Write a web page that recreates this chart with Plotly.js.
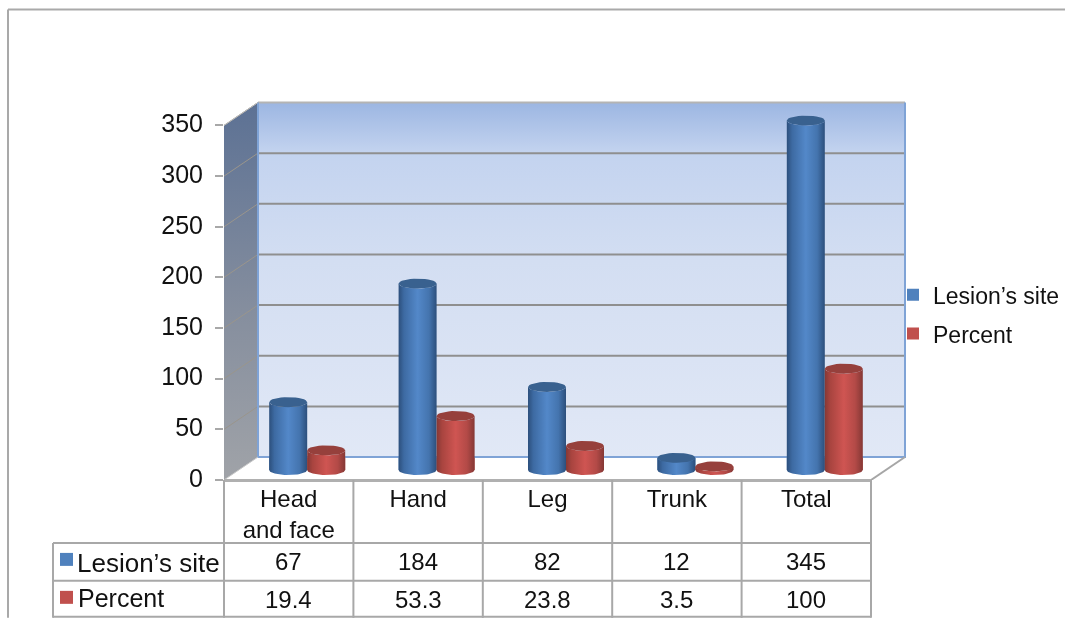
<!DOCTYPE html>
<html><head><meta charset="utf-8">
<script src="https://cdn.plot.ly/plotly-3.0.1.min.js"></script>
<style>html,body{margin:0;padding:0;background:#fff;overflow:hidden}#chart{filter:blur(0.35px)}</style>
</head><body><div id="chart" style="width:1065px;height:618px"></div>
<script>
const categories = ["Head<br>and face", "Hand", "Leg", "Trunk", "Total"];
const lesionSite = [67, 184, 82, 12, 345];
const percent = [19.4, 53.3, 23.8, 3.5, 100];
const percentLabels = ["19.4", "53.3", "23.8", "3.5", "100"];
const yTicks = [0, 50, 100, 150, 200, 250, 300, 350];
const seriesNames = ["Lesion\u2019s site", "Percent"];

const pxX = 647 / 5, pxY = 355 / 350;
const L = 224, B = 480, W = 1065 - L, xMax = W / pxX, yMax = 385;
const H = yMax * pxY, T = B - H;
const depthX = 34 / pxX, depthY = 23 / pxY;
const barW = 38 / pxX, capY = 5 / pxY, floorY = 10 / pxY, shift = 18.5 / pxX;
const paperX = X => (X - L) / W;
const paperY = Y => (B - Y) / H;
const FONT = "Liberation Sans, Arial, sans-serif";
const FS = 24;

const traces = [];
const base = {type: "scatter", mode: "lines", hoverinfo: "skip", showlegend: false, cliponaxis: false};

[[lesionSite, "#4f81bd", -1], [percent, "#c0504d", 1]].forEach(([vals, col, side], s) => {
  traces.push({
    type: "bar", name: seriesNames[s], legendgroup: seriesNames[s],
    x: vals.map((_, i) => i + 0.5 + shift + side * barW / 2),
    y: vals, base: vals.map(() => floorY), width: barW,
    marker: {color: col}, cliponaxis: false, hoverinfo: "skip"
  });
});

traces.push({...base, x: [depthX, 5 + depthX, 5 + depthX, depthX, depthX],
  y: [depthY, depthY, 350 + depthY, 350 + depthY, depthY], line: {width: 0}, fill: "toself",
  fillgradient: {type: "vertical", colorscale: [[0, "#e1e8f6"], [0.55, "#d3def2"], [0.86, "#c3d3ef"], [1, "#9cb6e2"]]}});
traces.push({...base, x: [0, depthX, depthX, 0, 0], y: [0, depthY, 350 + depthY, 350, 0], line: {width: 0}, fill: "toself",
  fillgradient: {type: "vertical", colorscale: [[0, "#a0a3a8"], [0.45, "#858e9e"], [1, "#5c7194"]]}});
yTicks.slice(1).forEach(v => {
  traces.push({...base, x: [depthX, 5 + depthX], y: [v + depthY, v + depthY],
    line: {color: v === 350 ? "#b4b4b4" : "#8f8f8f", width: 2}});
  traces.push({...base, x: [0, depthX], y: [v, v + depthY], line: {color: "#9a958c", width: 1}});
});
traces.push({...base, x: [depthX, depthX, 5 + depthX, 5 + depthX], y: [350 + depthY, depthY, depthY, 350 + depthY],
  line: {color: "#7fa3d6", width: 2}});
traces.push({...base, x: [0, depthX], y: [0, depthY], line: {color: "#c8c8c8", width: 1}});
traces.push({...base, x: [0, depthX], y: [350, 350 + depthY], line: {color: "#bcbcbc", width: 1}});
traces.push({...base, x: [5, 5 + depthX], y: [0, depthY], line: {color: "#a6a6a6", width: 2}});

const stops = [
  {body: [[0, "#2c4f7c"], [0.14, "#3d6aa2"], [0.5, "#5388c9"], [0.8, "#4474ae"], [1, "#2c4f7c"]], cap: "#39618f"},
  {body: [[0, "#853835"], [0.14, "#a8443f"], [0.5, "#cf5552"], [0.8, "#b34a47"], [1, "#853835"]], cap: "#96403c"}
];
function arc(cx, cy, from, to) {
  const xs = [], ys = [];
  for (let k = 0; k <= 32; k++) {
    const a = from + (to - from) * k / 32;
    xs.push(cx + Math.cos(a) * barW / 2);
    ys.push(cy + Math.sin(a) * capY);
  }
  return [xs, ys];
}
[lesionSite, percent].forEach((vals, s) => {
  const side = s === 0 ? -1 : 1;
  vals.forEach((v, i) => {
    const cx = i + 0.5 + shift + side * barW / 2;
    const top = floorY + v;
    const [bx, by] = arc(cx, floorY, Math.PI, 2 * Math.PI);
    const [tx, ty] = arc(cx, top, 0, -Math.PI);
    traces.push({...base, x: bx.concat(tx, [bx[0]]), y: by.concat(ty, [by[0]]), line: {width: 0}, fill: "toself",
      fillgradient: {type: "horizontal", colorscale: stops[s].body}});
    const [cxs, cys] = arc(cx, top, 0, 2 * Math.PI);
    traces.push({...base, x: cxs, y: cys, line: {width: 0}, fill: "toself", fillcolor: stops[s].cap});
  });
});

const gray = "#a8a8a8";
const line = (x0, y0, x1, y1, w, c) => ({type: "line", xref: "paper", yref: "paper",
  x0: paperX(x0), x1: paperX(x1), y0: paperY(y0), y1: paperY(y1), line: {color: c || gray, width: w || 2}});
const colX = [224, 353.4, 482.8, 612.2, 741.6, 871];
const shapes = [
  line(8, 9, 1065, 9, 2, "#a9a9a9"), line(8, 9, 8, 618, 2, "#a9a9a9"),
  line(224, 480.5, 871, 480.5, 3, "#b0b0b0"),
  line(53, 543, 871, 543), line(53, 581, 871, 581), line(53, 617, 871, 617),
  line(53, 543, 53, 618)
];
colX.forEach(x => shapes.push(line(x, 480, x, 618)));
const rect = (x0, y0, x1, y1, c) => ({type: "rect", xref: "paper", yref: "paper", line: {width: 0}, fillcolor: c,
  x0: paperX(x0), x1: paperX(x1), y0: paperY(y0), y1: paperY(y1)});
shapes.push(rect(60, 553, 73, 566, "#4f81bd"), rect(60, 591, 73, 604, "#c0504d"));

const note = (text, xv, Y, xanchor, xref, size) => ({text, x: xv, y: paperY(Y), xref: xref || "x", yref: "paper",
  xanchor: xanchor || "center", yanchor: "middle", showarrow: false, font: {family: FONT, size: size || FS, color: "#111"}});
const annotations = [];
lesionSite.forEach((v, i) => annotations.push(note(String(v), i + 0.5, 562)));
percentLabels.forEach((v, i) => annotations.push(note(v, i + 0.5, 600)));
annotations.push(note(seriesNames[0], paperX(75), 563, "left", "paper", 26));
annotations.push(note(seriesNames[1], paperX(76), 598, "left", "paper", 25));

const layout = {
  width: 1065, height: 618, autosize: false,
  margin: {l: L, r: 0, t: T, b: 618 - B, pad: 0},
  paper_bgcolor: "#fff", plot_bgcolor: "rgba(0,0,0,0)",
  font: {family: FONT, size: FS, color: "#111"},
  barmode: "overlay",
  xaxis: {range: [0, xMax], tickvals: [0.5, 1.5, 2.5, 3.5, 4.5], ticktext: categories,
    showgrid: false, zeroline: false, showline: false, ticks: "", automargin: false, ticklabelstandoff: 2,
    tickfont: {family: FONT, size: FS, color: "#111"}, tickangle: 0},
  yaxis: {range: [0, yMax], tickvals: yTicks, showgrid: false, zeroline: false, showline: false,
    ticks: "outside", ticklen: 8, tickwidth: 2, tickcolor: gray, automargin: false, ticklabelstandoff: 7, ticklabelshift: -2,
    tickfont: {family: FONT, size: 25, color: "#111"}},
  showlegend: true,
  legend: {x: paperX(893), y: paperY(273), xanchor: "left", yanchor: "top",
    bgcolor: "rgba(0,0,0,0)", traceorder: "grouped", tracegroupgap: 6, itemwidth: 30,
    font: {family: FONT, size: 23, color: "#111"}},
  shapes, annotations
};
Plotly.newPlot("chart", traces, layout, {displayModeBar: false, staticPlot: true});
</script></body></html>
